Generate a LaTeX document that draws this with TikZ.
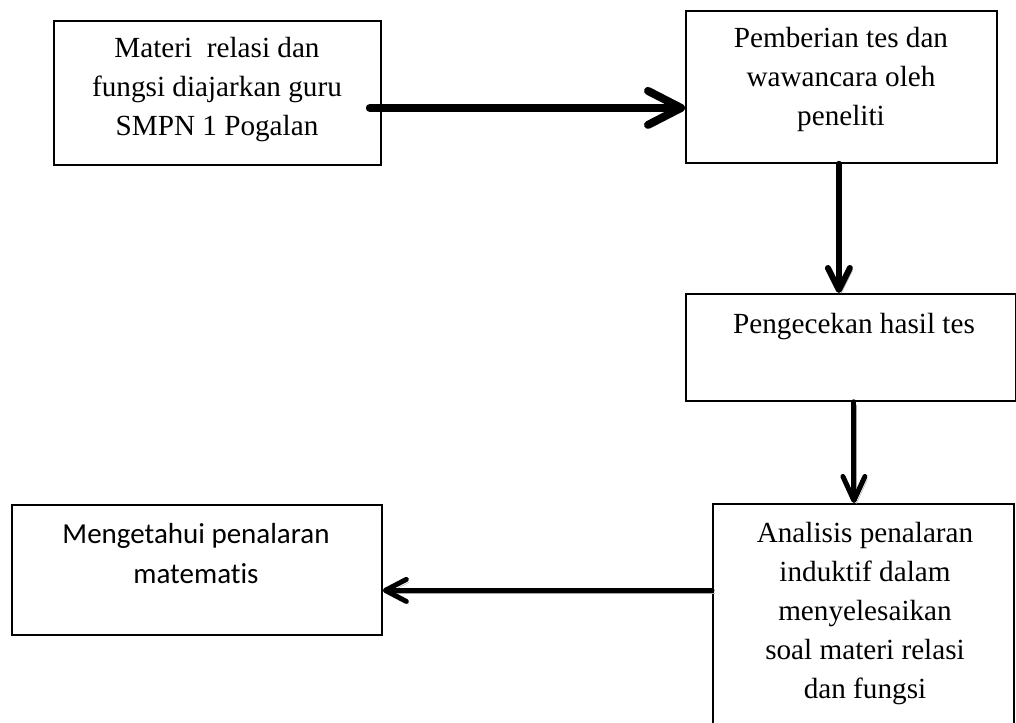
\documentclass[tikz,border=0pt]{standalone}
\usepackage{fontspec}
\setmainfont{Liberation Serif}
\newfontfamily\calfont[Ligatures=NoCommon]{Carlito}
\usetikzlibrary{arrows.meta}
\tikzset{
  box/.style={draw, line width=1.8pt, inner sep=0pt, anchor=north west},
  txt/.style={align=center, inner sep=0pt, anchor=north, font=\fontsize{29.2}{38.9}\selectfont},
  calt/.style={align=center, inner sep=0pt, anchor=north, font=\calfont\fontsize{29}{40}\selectfont},
  shadowed/.style={preaction={draw=black!35, transform canvas={shift={(2.5pt,-3pt)}}}},
  flow/.style={draw, line cap=round, shadowed},
}
\begin{document}
\begin{tikzpicture}[x=1pt,y=-1pt]
\clip (0,0) rectangle (1016,722);
\fill[white] (0,0) rectangle (1016,722);
% boxes
\node[box, minimum width=327pt, minimum height=144pt] (b1) at (53,20) {};
\node[box, minimum width=311pt, minimum height=152pt] (b2) at (685,10) {};
\node[box, minimum width=330pt, minimum height=107pt] (b3) at (685,293) {};
\node[box, minimum width=301pt, minimum height=227pt] (b4) at (712,503) {};
\node[box, minimum width=370pt, minimum height=130pt] (b5) at (11,504) {};
% texts
\node[txt] (t1) at (217,37) {Materi~ relasi dan\\fungsi diajarkan guru\\SMPN 1 Pogalan};
\node[txt] (t2) at (841,27) {Pemberian tes dan\\wawancara oleh\\peneliti};
\node[txt] (t3) at (854,313) {Pengecekan hasil tes};
\node[txt] (t4) at (865,522) {Analisis penalaran\\induktif dalam\\menyelesaikan\\soal materi relasi\\dan fungsi};
\node[calt] (t5) at (196,523) {Mengetahui penalaran\\matematis};
% connectors
\coordinate (a1s) at ([shift={(-12,15)}]b1.east);
\draw[flow, line width=8pt, -{Straight Barb[length=33pt,width=34pt,round]}] (a1s) -- (a1s -| b2.west);
\coordinate (a2s) at ([xshift=-2.5pt]b2.south);
\draw[flow, line width=6pt, -{Straight Barb[length=22pt,width=22pt,round]}] (a2s) -- (a2s |- b3.north);
\coordinate (a3s) at ([xshift=3pt]b3.south);
\draw[flow, line width=5pt, -{Straight Barb[length=24pt,width=22pt,round]}] (a3s) -- (a3s |- b4.north);
\coordinate (a4s) at ([shift={(0,-27)}]b4.west);
\draw[flow, line width=5pt, -{Straight Barb[length=21pt,width=22pt,round]}] (a4s) -- (a4s -| b5.east);
\end{tikzpicture}
\end{document}
